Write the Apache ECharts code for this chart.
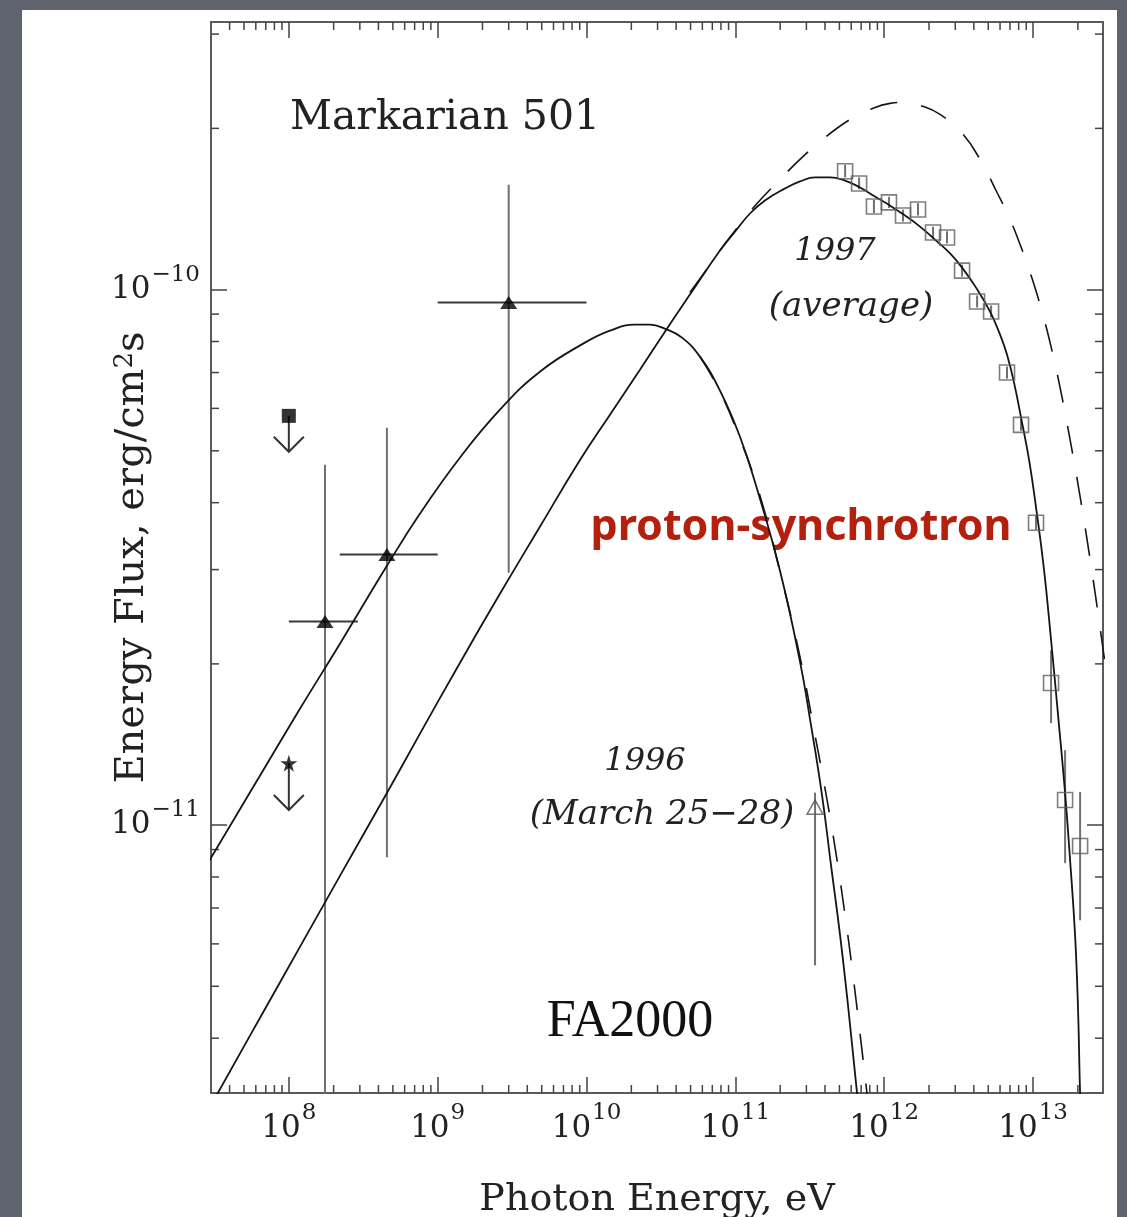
<!DOCTYPE html>
<html>
<head>
<meta charset="utf-8">
<title>Markarian 501</title>
<script src="https://cdn.jsdelivr.net/npm/echarts@6.0.0/dist/echarts.min.js"></script>
<style>
  html, body { margin: 0; padding: 0; background: #5f636e; }
  #chart { width: 1127px; height: 1217px; }
</style>
</head>
<body>
<div id="chart"></div>
<script>
// axis ranges and labelled ticks
const xMin = 3.0e7, xMax = 2.95e13;
const yMin = 3.16e-12, yMax = 3.16e-10;
const xTicks = [1e8, 1e9, 1e10, 1e11, 1e12, 1e13];
const yTicks = [1e-11, 1e-10];

// solid model, 1996 (March 25-28)
const fit96E = [2.855e7, 6.38e7, 1.185e8, 2.20e8, 4.56e8, 7.59e8, 1.41e9, 2.62e9, 4.86e9, 9.75e9, 1.437e10, 2.115e10, 2.67e10, 3.36e10, 4.38e10, 5.78e10, 7.88e10, 1.074e11, 1.397e11, 1.994e11, 2.72e11, 3.22e11, 3.82e11, 4.39e11, 5.05e11, 5.71e11, 6.57e11, 6.77e11];
const fit96F = [8.49e-12, 1.235e-11, 1.647e-11, 2.179e-11, 3.049e-11, 3.814e-11, 4.853e-11, 5.966e-11, 7.025e-11, 7.96e-11, 8.382e-11, 8.601e-11, 8.60e-11, 8.455e-11, 8.135e-11, 7.495e-11, 6.475e-11, 5.311e-11, 4.246e-11, 2.984e-11, 2.017e-11, 1.538e-11, 1.138e-11, 8.418e-12, 6.23e-12, 4.609e-12, 3.155e-12, 2.933e-12];
// dashed variant, 1996
const dash96E = [5.78e10, 7.88e10, 1.074e11, 1.463e11, 1.994e11, 2.717e11, 3.427e11, 4.13e11, 4.82e11, 5.454e11, 6.17e11, 7.09e11, 7.66e11, 7.90e11];
const dash96F = [7.495e-11, 6.447e-11, 5.266e-11, 4.121e-11, 2.971e-11, 2.061e-11, 1.473e-11, 1.114e-11, 8.60e-12, 6.788e-12, 5.244e-12, 3.797e-12, 3.155e-12, 2.933e-12];

// solid model, 1997 average
const fit97E = [3.13e7, 6.38e7, 1.185e8, 2.20e8, 4.56e8, 7.59e8, 1.41e9, 2.62e9, 4.86e9, 8.89e9, 1.437e10, 2.285e10, 3.364e10, 4.95e10, 7.88e10, 9.94e10, 1.253e11, 1.58e11, 2.154e11, 2.72e11, 3.43e11, 4.32e11, 5.454e11, 6.88e11, 8.67e11, 1.094e12, 1.38e12, 1.74e12, 2.19e12, 2.77e12, 3.334e12, 4.14e12, 5.14e12, 6.0e12, 6.686e12, 7.45e12, 8.305e12, 9.40e12, 1.048e13, 1.185e13, 1.321e13, 1.472e13, 1.641e13, 1.773e13, 1.915e13, 2.006e13, 2.07e13, 2.102e13];
const fit97F = [3.062e-12, 4.358e-12, 5.916e-12, 8.03e-12, 1.148e-11, 1.48e-11, 2.008e-11, 2.703e-11, 3.606e-11, 4.77e-11, 5.84e-11, 7.085e-11, 8.346e-11, 9.788e-11, 1.183e-10, 1.283e-10, 1.387e-10, 1.467e-10, 1.545e-10, 1.592e-10, 1.62e-10, 1.62e-10, 1.598e-10, 1.551e-10, 1.492e-10, 1.435e-10, 1.375e-10, 1.311e-10, 1.24e-10, 1.168e-10, 1.099e-10, 1.0085e-10, 9.097e-11, 8.24e-11, 7.559e-11, 6.702e-11, 5.763e-11, 4.81e-11, 3.913e-11, 2.997e-11, 2.217e-11, 1.605e-11, 1.148e-11, 8.60e-12, 6.23e-12, 4.51e-12, 3.155e-12, 2.933e-12];
// dashed variant, 1997
const dash97E = [4.95e10, 6.25e10, 7.88e10, 1.074e11, 1.397e11, 1.994e11, 2.717e11, 4.00e11, 5.89e11, 8.03e11, 1.094e12, 1.38e12, 1.74e12, 2.37e12, 3.385e12, 4.40e12, 5.73e12, 7.00e12, 8.18e12, 9.55e12, 1.114e13, 1.301e13, 1.519e13, 1.773e13, 2.07e13, 2.42e13, 2.82e13, 3.29e13];
const dash97F = [9.872e-11, 1.08e-10, 1.183e-10, 1.323e-10, 1.448e-10, 1.605e-10, 1.75e-10, 1.923e-10, 2.078e-10, 2.17e-10, 2.227e-10, 2.236e-10, 2.208e-10, 2.124e-10, 1.949e-10, 1.75e-10, 1.518e-10, 1.352e-10, 1.214e-10, 1.076e-10, 9.376e-11, 7.96e-11, 6.559e-11, 5.244e-11, 4.104e-11, 3.128e-11, 2.334e-11, 1.713e-11];

// filled triangles with error bars
const triE = [1.75e8, 4.56e8, 3.0e9];
const triF = [2.4e-11, 3.2e-11, 9.46e-11];
const triFlo = [3.16e-12, 8.71e-12, 2.96e-11];
const triFhi = [4.71e-11, 5.52e-11, 1.57e-10];
const triElo = [1.0e8, 2.2e8, 1.0e9];
const triEhi = [2.91e8, 1.0e9, 1.0e10];

// open triangle
const openE = [3.43e11];
const openF = [1.08e-11];
const openFlo = [5.47e-12];
const openFhi = [1.15e-11];

// upper limits: filled square, star
const ulE = [1e8, 1e8];
const ulF = [5.81e-11, 1.305e-11];
const ulTip = [4.98e-11, 1.067e-11];

// 1997 average, open squares
const sqE = [5.46e11, 6.78e11, 8.53e11, 1.076e12, 1.337e12, 1.687e12, 2.128e12, 2.642e12, 3.334e12, 4.207e12, 5.224e12, 6.683e12, 8.299e12, 1.047e13, 1.321e13, 1.641e13, 2.070e13];
const sqF = [1.663e-10, 1.578e-10, 1.429e-10, 1.455e-10, 1.375e-10, 1.411e-10, 1.278e-10, 1.251e-10, 1.085e-10, 9.50e-11, 9.10e-11, 7.00e-11, 5.59e-11, 3.67e-11, 1.842e-11, 1.114e-11, 9.14e-12];
const sqLo = [1.62e-10, 1.54e-10, 1.39e-10, 1.42e-10, 1.34e-10, 1.375e-10, 1.245e-10, 1.22e-10, 1.057e-10, 9.26e-11, 8.87e-11, 6.82e-11, 5.45e-11, 3.56e-11, 1.55e-11, 8.49e-12, 6.64e-12];
const sqHi = [1.71e-10, 1.62e-10, 1.47e-10, 1.49e-10, 1.41e-10, 1.45e-10, 1.31e-10, 1.285e-10, 1.113e-10, 9.75e-11, 9.34e-11, 7.18e-11, 5.74e-11, 3.79e-11, 2.12e-11, 1.38e-11, 1.153e-11];

const FONT = '"DejaVu Serif", serif';
const INK = '#151515';

// log minor ticks 2..9 per decade
const xMinor = [], yMinor = [];
for (let d = 7; d <= 13; d++) for (let m = 2; m <= 9; m++) {
  const v = m * Math.pow(10, d);
  if (v > xMin * 1.01 && v < xMax) xMinor.push(v);
}
for (let d = -12; d <= -10; d++) for (let m = 2; m <= 9; m++) {
  const v = m * Math.pow(10, d);
  if (v > yMin * 1.01 && v < yMax) yMinor.push(v);
}

const zip = (a, b) => a.map((v, i) => [v, b[i]]);

function powLabel(value) {
  const e = Math.log10(value);
  const n = Math.round(e);
  if (Math.abs(e - n) > 0.01) return '';
  return '{b|10}{s|' + (n < 0 ? '\u2212' + (-n) : n) + '}';
}
const labelRich = {
  b: { fontFamily: FONT, fontSize: 31, color: '#222', lineHeight: 31, verticalAlign: 'bottom' },
  s: { fontFamily: FONT, fontSize: 23, color: '#222', lineHeight: 23, verticalAlign: 'bottom', padding: [0, 0, 19, 1] }
};
const frameLine = { show: true, lineStyle: { color: '#5a5a5a', width: 2 } };
const tickStyle = { color: '#444', width: 1.5 };

function errorBars(params, api) {
  const x = api.value(0), y = api.value(1);
  const c = api.coord([x, y]);
  const lo = api.coord([x, api.value(2)]);
  const hi = api.coord([x, api.value(3)]);
  const kids = [{
    type: 'line', shape: { x1: c[0], y1: lo[1], x2: c[0], y2: hi[1] },
    style: { stroke: '#707070', lineWidth: 2 }
  }];
  if (api.value(4) > 0) {
    const l = api.coord([api.value(4), y]);
    const r = api.coord([api.value(5), y]);
    kids.push({
      type: 'line', shape: { x1: l[0], y1: c[1], x2: r[0], y2: c[1] },
      style: { stroke: '#3a3a3a', lineWidth: 2 }
    });
  }
  return { type: 'group', children: kids };
}

function arrows(params, api) {
  const c = api.coord([api.value(0), api.value(1)]);
  const t = api.coord([api.value(0), api.value(2)]);
  return {
    type: 'group', children: [
      { type: 'line', shape: { x1: c[0], y1: c[1], x2: t[0], y2: t[1] }, style: { stroke: '#333', lineWidth: 2 } },
      { type: 'polyline', shape: { points: [[t[0] - 15, t[1] - 15], [t[0], t[1]], [t[0] + 15, t[1] - 15]] }, style: { stroke: '#333', lineWidth: 2, fill: null } }
    ]
  };
}

function minorX(params, api) {
  const cs = params.coordSys;
  const px = api.coord([api.value(0), yMax])[0];
  const b = cs.y + cs.height;
  return {
    type: 'group', children: [
      { type: 'line', shape: { x1: px, y1: b, x2: px, y2: b - 8 }, style: { stroke: '#444', lineWidth: 1.5 } },
      { type: 'line', shape: { x1: px, y1: cs.y, x2: px, y2: cs.y + 8 }, style: { stroke: '#444', lineWidth: 1.5 } }
    ]
  };
}
function minorY(params, api) {
  const cs = params.coordSys;
  const py = api.coord([xMax, api.value(1)])[1];
  const r = cs.x + cs.width;
  return {
    type: 'group', children: [
      { type: 'line', shape: { x1: cs.x, y1: py, x2: cs.x + 8, y2: py }, style: { stroke: '#444', lineWidth: 1.5 } },
      { type: 'line', shape: { x1: r, y1: py, x2: r - 8, y2: py }, style: { stroke: '#444', lineWidth: 1.5 } }
    ]
  };
}

const chart = echarts.init(document.getElementById('chart'));
chart.setOption({
  animation: false,
  backgroundColor: '#5f636e',
  grid: { left: 211, top: 22, right: 24, bottom: 124, containLabel: false, outerBoundsMode: 'none' },
  graphic: [
    { type: 'rect', z: -10, shape: { x: 22, y: 10, width: 1095, height: 1220 }, style: { fill: '#ffffff' } },
    { type: 'text', z: 1, x: 445, y: 118, style: { text: 'Markarian 501', fontFamily: FONT, fontSize: 41, fill: '#222', align: 'center', verticalAlign: 'middle' } },
    { type: 'text', z: 1, x: 835, y: 252, style: { text: '1997', fontFamily: FONT, fontStyle: 'italic', fontSize: 32, fill: '#222', align: 'center', verticalAlign: 'middle' } },
    { type: 'text', z: 1, x: 851, y: 307, style: { text: '(average)', fontFamily: FONT, fontStyle: 'italic', fontSize: 34, fill: '#222', align: 'center', verticalAlign: 'middle' } },
    { type: 'text', z: 1, x: 645, y: 762, style: { text: '1996', fontFamily: FONT, fontStyle: 'italic', fontSize: 32, fill: '#222', align: 'center', verticalAlign: 'middle' } },
    { type: 'text', z: 1, x: 662, y: 815, style: { text: '(March 25\u221228)', fontFamily: FONT, fontStyle: 'italic', fontSize: 34, fill: '#222', align: 'center', verticalAlign: 'middle' } },
    { type: 'text', z: 1, x: 801, y: 528, style: { text: 'proton-synchrotron', fontFamily: '"Noto Sans", sans-serif', fontWeight: 'bold', fontSize: 43, fill: '#b3200e', align: 'center', verticalAlign: 'middle' } },
    { type: 'text', z: 1, x: 630, y: 1022, style: { text: 'FA2000', fontFamily: '"Liberation Serif", serif', fontSize: 52, fill: '#111', align: 'center', verticalAlign: 'middle' } }
  ],
  xAxis: [{
    type: 'log', min: xMin, max: xMax, position: 'bottom',
    axisLine: frameLine,
    axisTick: { inside: true, length: 16, customValues: xTicks, lineStyle: tickStyle },
    axisLabel: { customValues: xTicks, formatter: powLabel, rich: labelRich, margin: 20 },
    splitLine: { show: false },
    name: 'Photon Energy, eV', nameLocation: 'middle', nameGap: 88, nameMoveOverlap: false,
    nameTextStyle: { fontFamily: FONT, fontSize: 38, color: '#222' }
  }, {
    type: 'log', min: xMin, max: xMax, position: 'top',
    axisLine: frameLine,
    axisTick: { inside: true, length: 16, customValues: xTicks, lineStyle: tickStyle },
    axisLabel: { show: false }, splitLine: { show: false }
  }],
  yAxis: [{
    type: 'log', min: yMin, max: yMax, position: 'left',
    axisLine: frameLine,
    axisTick: { inside: true, length: 16, customValues: yTicks, lineStyle: tickStyle },
    axisLabel: { customValues: yTicks, formatter: powLabel, rich: labelRich, margin: 11 },
    splitLine: { show: false },
    name: 'Energy Flux, erg/cm{s|2}s', nameLocation: 'middle', nameGap: 56, nameMoveOverlap: false,
    nameTextStyle: {
      fontFamily: FONT, fontSize: 40, color: '#222', lineHeight: 44,
      rich: { s: { fontFamily: FONT, fontSize: 26, color: '#222', lineHeight: 26, verticalAlign: 'bottom', padding: [0, 0, 17, 0] } }
    }
  }, {
    type: 'log', min: yMin, max: yMax, position: 'right',
    axisLine: frameLine,
    axisTick: { inside: true, length: 16, customValues: yTicks, lineStyle: tickStyle },
    axisLabel: { show: false }, splitLine: { show: false }
  }],
  series: [
    { type: 'custom', name: 'minor x', renderItem: minorX, data: xMinor.map(v => [v, yMax]), silent: true, z: 1 },
    { type: 'custom', name: 'minor y', renderItem: minorY, data: yMinor.map(v => [xMax, v]), silent: true, z: 1 },
    { type: 'line', name: 'model 1996', data: zip(fit96E, fit96F), showSymbol: false, smooth: 0.45, lineStyle: { color: INK, width: 1.8 }, silent: true },
    { type: 'line', name: 'model 1996 dashed', data: zip(dash96E, dash96F), showSymbol: false, smooth: 0.45, lineStyle: { color: INK, width: 1.6, type: [26, 24] }, silent: true },
    { type: 'line', name: 'model 1997', data: zip(fit97E, fit97F), showSymbol: false, smooth: 0.45, lineStyle: { color: INK, width: 1.8 }, silent: true },
    { type: 'line', name: 'model 1997 dashed', data: zip(dash97E, dash97F), showSymbol: false, smooth: 0.45, lineStyle: { color: INK, width: 1.6, type: [28, 24] }, silent: true },
    {
      type: 'custom', name: 'triangle bars', renderItem: errorBars, clip: true, silent: true,
      data: triE.map((e, i) => [e, triF[i], triFlo[i], triFhi[i], triElo[i], triEhi[i]])
    },
    {
      type: 'custom', name: 'open triangle bar', renderItem: errorBars, clip: true, silent: true,
      data: openE.map((e, i) => [e, openF[i], openFlo[i], openFhi[i], 0, 0])
    },
    {
      type: 'custom', name: 'square bars', renderItem: errorBars, clip: true, silent: true,
      data: sqE.map((e, i) => [e, sqF[i], sqLo[i], sqHi[i], 0, 0])
    },
    {
      type: 'custom', name: 'upper limits', renderItem: arrows, silent: true,
      data: ulE.map((e, i) => [e, ulF[i], ulTip[i]])
    },
    { type: 'scatter', name: 'triangles', data: zip(triE, triF), symbol: 'triangle', symbolSize: [17, 13], itemStyle: { color: '#000' }, z: 4, silent: true },
    { type: 'scatter', name: 'open triangle', data: zip(openE, openF), symbol: 'triangle', symbolSize: [16, 14], itemStyle: { color: 'rgba(255,255,255,0)', borderColor: '#555', borderWidth: 1.5 }, z: 4, silent: true },
    { type: 'scatter', name: '1997 squares', data: zip(sqE, sqF), symbol: 'rect', symbolSize: 15, itemStyle: { color: 'rgba(255,255,255,0)', borderColor: '#5e5e5e', borderWidth: 1.6 }, z: 4, silent: true },
    { type: 'scatter', name: 'limit square', data: [[ulE[0], ulF[0]]], symbol: 'rect', symbolSize: 14, itemStyle: { color: '#000' }, z: 4, silent: true },
    { type: 'scatter', name: 'limit star', data: [[ulE[1], ulF[1]]], symbol: 'path://M50,0 L61,35 L98,35 L68,57 L79,91 L50,70 L21,91 L32,57 L2,35 L39,35 Z', symbolSize: 17, itemStyle: { color: '#000' }, z: 4, silent: true }
  ]
});
window.addEventListener('resize', function () { chart.resize(); });
</script>
</body>
</html>
